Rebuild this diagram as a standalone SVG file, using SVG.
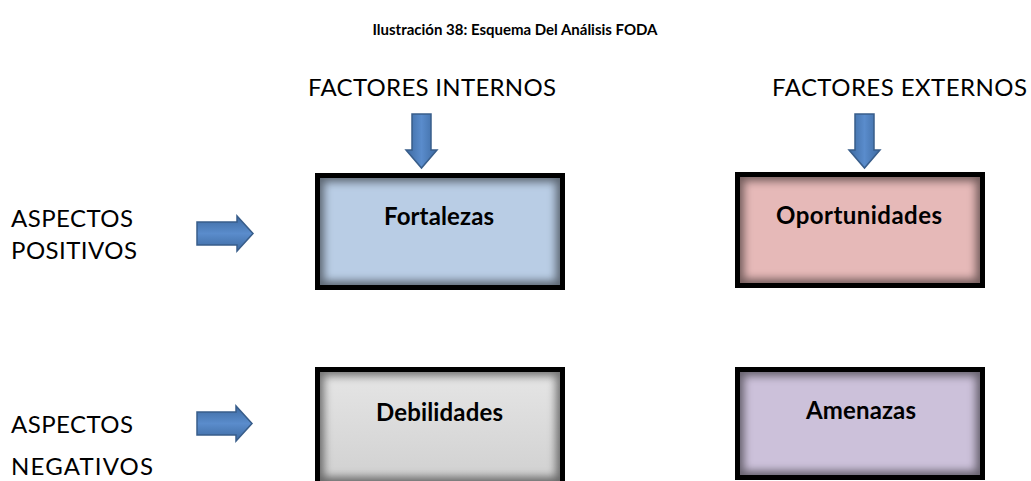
<svg xmlns="http://www.w3.org/2000/svg" width="1031" height="481" viewBox="0 0 1031 481">
<style>
.t{font-family:Lato,"Open Sans","Liberation Sans",sans-serif;fill:#000}
.title{font-size:15px;font-weight:bold}
.lbl{font-size:24px}
.nl{font-size:24px;font-weight:bold}
.frame{fill:none;stroke:#000;stroke-width:5}
.glow{fill:none;stroke:#000;stroke-width:14;stroke-opacity:0.5;filter:url(#blur)}
.arr{fill:url(#ag);stroke:#385d8a;stroke-width:1.5;stroke-linejoin:miter}
.arrh{fill:url(#agh);stroke:#385d8a;stroke-width:1.5;stroke-linejoin:miter}
</style>
<defs>
<filter id="blur" x="-20%" y="-30%" width="140%" height="160%"><feGaussianBlur stdDeviation="4"/></filter>
<clipPath id="c1"><rect x="317" y="175" width="246" height="113"/></clipPath>
<clipPath id="c2"><rect x="737" y="174" width="246" height="112"/></clipPath>
<clipPath id="c3"><rect x="317" y="369" width="246" height="115"/></clipPath>
<clipPath id="c4"><rect x="737" y="369" width="246" height="109"/></clipPath>
<linearGradient id="ag" x1="0" y1="0" x2="1" y2="0">
<stop offset="0" stop-color="#3d6aa1"/><stop offset="0.5" stop-color="#5a8ccc"/><stop offset="1" stop-color="#3d6aa1"/>
</linearGradient>
<linearGradient id="agh" x1="0" y1="0" x2="0" y2="1">
<stop offset="0" stop-color="#3d6aa1"/><stop offset="0.5" stop-color="#5a8ccc"/><stop offset="1" stop-color="#3d6aa1"/>
</linearGradient>
<linearGradient id="gray" x1="0" y1="0" x2="0" y2="1">
<stop offset="0" stop-color="#e6e6e6"/><stop offset="1" stop-color="#d0d0d0"/>
</linearGradient>
</defs>
<rect width="1031" height="481" fill="#fff"/>
<text class="t title" x="515" y="35" text-anchor="middle" textLength="285">Ilustración 38: Esquema Del Análisis FODA</text>
<text class="t lbl" x="308" y="96" textLength="248">FACTORES INTERNOS</text>
<text class="t lbl" x="772" y="96" textLength="255">FACTORES EXTERNOS</text>
<text class="t lbl" x="11" y="227" textLength="122">ASPECTOS</text>
<text class="t lbl" x="11" y="259" textLength="126">POSITIVOS</text>
<text class="t lbl" x="11" y="433" textLength="122">ASPECTOS</text>
<text class="t lbl" x="11" y="475" textLength="142">NEGATIVOS</text>
<g id="connectors">
<path class="arr" d="M412,114 H431 V150 H437 L421.5,168 L406,150 H412 Z"/>
<path class="arr" d="M855,114 H874 V150 H880 L864.5,168 L849,150 H855 Z"/>
<path class="arrh" d="M197,222 H237 V216 L253,233.5 L237,251 V245 H197 Z"/>
<path class="arrh" d="M197,412 H236 V406 L252,423.5 L236,441 V435 H197 Z"/>
</g>
<g id="fortalezas">
<rect x="317" y="175" width="246" height="113" fill="#b9cde5"/>
<g clip-path="url(#c1)"><rect class="glow" x="317" y="175" width="246" height="113"/></g>
<rect class="frame" x="317.5" y="175.5" width="245" height="112"/>
<text class="t nl" x="384" y="225" textLength="110">Fortalezas</text>
</g>
<g id="oportunidades">
<rect x="737" y="174" width="246" height="112" fill="#e6b9b8"/>
<g clip-path="url(#c2)"><rect class="glow" x="737" y="174" width="246" height="112"/></g>
<rect class="frame" x="737.5" y="174.5" width="245" height="111"/>
<text class="t nl" x="776" y="224" textLength="166">Oportunidades</text>
</g>
<g id="debilidades">
<rect x="317" y="369" width="246" height="115" fill="url(#gray)"/>
<g clip-path="url(#c3)"><rect class="glow" x="317" y="369" width="246" height="115"/></g>
<rect class="frame" x="317.5" y="369.5" width="245" height="114"/>
<text class="t nl" x="376" y="421" textLength="127">Debilidades</text>
</g>
<g id="amenazas">
<rect x="737" y="369" width="246" height="109" fill="#ccc1da"/>
<g clip-path="url(#c4)"><rect class="glow" x="737" y="369" width="246" height="109"/></g>
<rect class="frame" x="737.5" y="369.5" width="245" height="108"/>
<text class="t nl" x="806" y="419" textLength="110">Amenazas</text>
</g>
</svg>
